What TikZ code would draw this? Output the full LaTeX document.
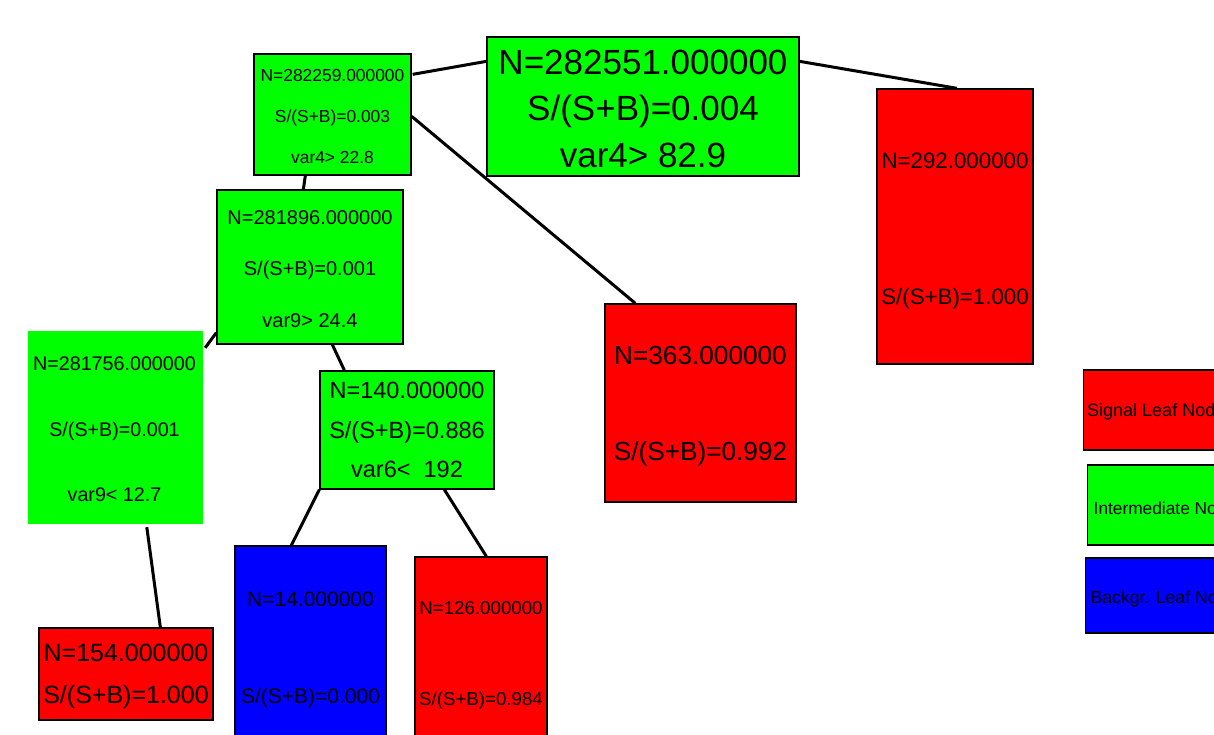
\documentclass[tikz,border=0pt]{standalone}
\usepackage{fontspec}
\setmainfont{Liberation Sans}
\usetikzlibrary{calc}
\definecolor{sig}{RGB}{255,0,0}
\definecolor{inter}{RGB}{0,255,0}
\definecolor{bkg}{RGB}{0,0,255}
\tikzset{
  box/.style={draw=black, line width=1.3pt, inner sep=0pt},
  nobox/.style={draw=none, inner sep=0pt},
  txt/.style={align=center, inner sep=0pt},
  edge/.style={line width=3pt, black},
  legendbox/.style={draw=black, line width=1.3pt, anchor=west, inner sep=0pt},
  legtxt/.style={anchor=west, inner sep=0pt},
}
\newcommand{\fs}[2]{\fontsize{#1}{#2}\selectfont}
\begin{document}
\begin{tikzpicture}[x=1pt,y=-1pt]
\useasboundingbox (0,0) rectangle (1214,735);
\clip (0,0) rectangle (1214,735);

\node[box, fill=inter, minimum width=312pt, minimum height=139pt,
  label={[txt, font=\fs{35}{46.5}, yshift=-2pt]center:{N=282551.000000\\S/(S+B)=0.004\\var4> 82.9}}] (root) at (643,106.5) {};
\node[box, fill=inter, minimum width=157pt, minimum height=121pt,
  label={[txt, font=\fs{17.4}{41}, yshift=-2pt]center:{N=282259.000000\\S/(S+B)=0.003\\var4> 22.8}}] (n1) at (332.5,114.5) {};
\node[box, fill=inter, minimum width=186pt, minimum height=154pt,
  label={[txt, font=\fs{20}{51.5}, yshift=-2pt]center:{N=281896.000000\\S/(S+B)=0.001\\var9> 24.4}}] (n2) at (310,267) {};
\node[nobox, fill=inter, minimum width=175pt, minimum height=193pt,
  label={[txt, font=\fs{19.7}{65.5}, yshift=-2pt, xshift=-1pt]center:{N=281756.000000\\S/(S+B)=0.001\\var9< 12.7}}] (n3) at (115.5,427.5) {};
\node[box, fill=inter, minimum width=174pt, minimum height=118pt,
  label={[txt, font=\fs{23.5}{39.5}]center:{N=140.000000\\S/(S+B)=0.886\\var6<\ \ 192}}] (n4) at (407,430) {};
\node[box, fill=sig, minimum width=156pt, minimum height=275pt,
  label={[txt, font=\fs{22.3}{136}, yshift=-5pt]center:{N=292.000000\\S/(S+B)=1.000}}] (n292) at (955,226.5) {};
\node[box, fill=sig, minimum width=191pt, minimum height=198pt,
  label={[txt, font=\fs{26.2}{96}, yshift=-3pt]center:{N=363.000000\\S/(S+B)=0.992}}] (n363) at (700.5,403) {};
\node[box, fill=sig, minimum width=174pt, minimum height=92pt,
  label={[txt, font=\fs{25}{42}, yshift=-2pt]center:{N=154.000000\\S/(S+B)=1.000}}] (n154) at (126,674) {};
\node[box, fill=bkg, minimum width=151pt, minimum height=202pt,
  label={[txt, font=\fs{21}{97}, yshift=-2.5pt]center:{N=14.000000\\S/(S+B)=0.000}}] (n14) at (310.5,647) {};
\node[box, fill=sig, minimum width=132pt, minimum height=190pt,
  label={[txt, font=\fs{18.7}{91}, yshift=-3pt]center:{N=126.000000\\S/(S+B)=0.984}}] (n126) at (481,652) {};

\node[legendbox, fill=sig, minimum width=160pt, minimum height=80pt,
  label={[legtxt, font=\fs{18}{20}, xshift=4pt, yshift=-2pt]west:Signal Leaf Node}] (lsig) at (1083,410) {};
\node[legendbox, fill=inter, minimum width=160pt, minimum height=80pt,
  label={[legtxt, font=\fs{17.3}{20}, xshift=6.5pt, yshift=-3pt]west:Intermediate Node}] (lint) at (1087,505) {};
\node[legendbox, fill=bkg, minimum width=160pt, minimum height=75pt,
  label={[legtxt, font=\fs{17.6}{20}, xshift=5.5pt, yshift=-3pt]west:Backgr. Leaf Node}] (lbkg) at (1085,595.5) {};

\draw[edge] ($(root.north west)+(0,25)$) -- ($(n1.north east)+(1,21)$);
\draw[edge] ($(root.north east)+(0,25)$) -- ($(n292.north)+(2,0)$);
\draw[edge] ($(n1.north east)+(0,63)$) -- ($(n363.north west)+(31,0)$);
\draw[edge] ($(n1.south west)+(52,0)$) -- ($(n2.north west)+(87,0)$);
\draw[edge] ($(n2.south west)+(0,-12)$) -- ($(n3.north east)+(2,17)$);
\draw[edge] ($(n2.south west)+(116,0)$) -- ($(n4.north west)+(25,0)$);
\draw[edge] ($(n3.south west)+(119,3)$) -- ($(n154.north west)+(122,0)$);
\draw[edge] (n4.south west) -- ($(n14.north west)+(57,0)$);
\draw[edge] ($(n4.south west)+(125,0)$) -- ($(n126.north west)+(72,0)$);
\end{tikzpicture}
\end{document}
